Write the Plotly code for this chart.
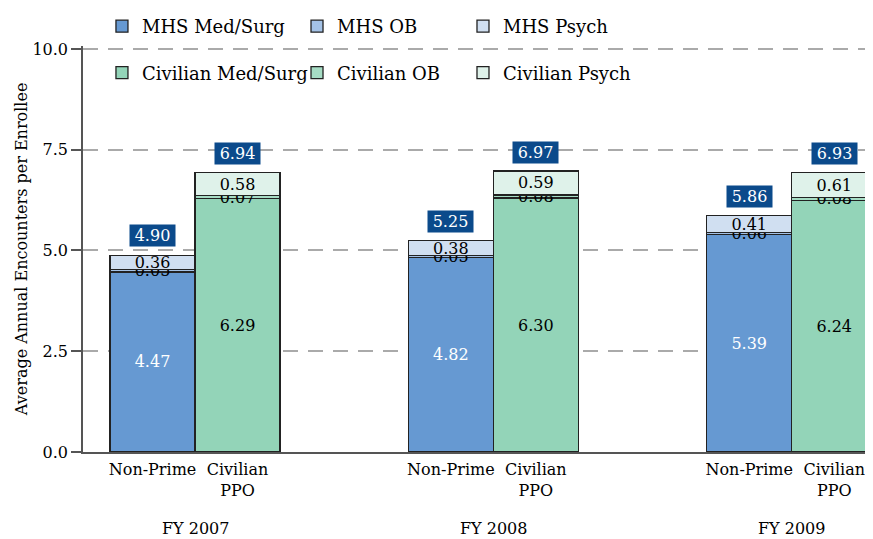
import plotly.graph_objects as go

years = ["FY 2007", "FY 2008", "FY 2009"]
bar_labels = ["Non-Prime", "Civilian<br>PPO"]

mhs_medsurg = [4.47, 4.82, 5.39]
mhs_ob = [0.05, 0.05, 0.06]
mhs_psych = [0.36, 0.38, 0.41]
civ_medsurg = [6.29, 6.30, 6.24]
civ_ob = [0.07, 0.08, 0.08]
civ_psych = [0.58, 0.59, 0.61]
mhs_total = [4.90, 5.25, 5.86]
civ_total = [6.94, 6.97, 6.93]

FONT = "DejaVu Serif"
GAP = 3.51
YTOP = 10.08
x_mhs = [i * GAP for i in range(len(years))]
x_civ = [i * GAP + 1 for i in range(len(years))]
x_grp = [i * GAP + 0.5 for i in range(len(years))]

fig = go.Figure()

def add(name, xs, ys, color, txtcolor, legend, group):
    fig.add_trace(go.Bar(
        name=name, x=xs, y=ys, width=1.0,
        marker=dict(color=color, line=dict(color="#222222", width=1.3)),
        text=[f"{v:.2f}" for v in ys],
        textposition="inside", insidetextanchor="middle",
        constraintext="none", textangle=0,
        textfont=dict(family=FONT, size=16, color=txtcolor),
        legend=legend, legendgroup=group, showlegend=True,
    ))

add("MHS Med/Surg", x_mhs, mhs_medsurg, "#6699D2", "white", "legend", "a")
add("Civilian Med/Surg", x_civ, civ_medsurg, "#93D4B8", "black", "legend", "b")
add("MHS OB", x_mhs, mhs_ob, "#A4C2E6", "black", "legend2", "c")
add("Civilian OB", x_civ, civ_ob, "#A6DCC4", "black", "legend2", "d")
add("MHS Psych", x_mhs, mhs_psych, "#D0DFF1", "black", "legend3", "e")
add("Civilian Psych", x_civ, civ_psych, "#DFF2EA", "black", "legend3", "f")

for xs, tots in ((x_mhs, mhs_total), (x_civ, civ_total)):
    for xv, t in zip(xs, tots):
        fig.add_annotation(x=xv, y=t, text=f"{t:.2f}", showarrow=False,
                           yshift=19, bgcolor="#0B4A8B", width=45, height=21,
                           borderpad=0, font=dict(family=FONT, size=16, color="white"))

for xv, yr in zip(x_grp, years):
    fig.add_annotation(x=xv, y=-0.1734, yref="paper", text=yr, showarrow=False,
                       yanchor="middle", font=dict(family=FONT, size=16, color="black"))

leg_common = dict(orientation="v", yanchor="top", xanchor="left", y=1.0,
                  bgcolor="rgba(255,255,255,0)", traceorder="grouped", tracegroupgap=20,
                  font=dict(family=FONT, size=18, color="black"))

fig.update_layout(
    width=865, height=531,
    margin=dict(l=75, r=0, t=0, b=87),
    plot_bgcolor="white", paper_bgcolor="white",
    barmode="stack",
    font=dict(family=FONT, size=16, color="black"),
    legend=dict(x=0.024, **leg_common),
    legend2=dict(x=0.2709, **leg_common),
    legend3=dict(x=0.481, **leg_common),
    xaxis=dict(range=[-0.8176, 8.476], tickvals=x_mhs + x_civ,
               ticktext=[bar_labels[0]] * 3 + [bar_labels[1]] * 3,
               showline=True, linecolor="#555555", linewidth=1.5,
               showgrid=False, zeroline=False, ticks="", ticklabelstandoff=2,
               automargin=False,
               tickfont=dict(family=FONT, size=16, color="black")),
    yaxis=dict(range=[0, YTOP], domain=[0, 403 * YTOP / 10 / 444],
               tickvals=[0, 2.5, 5, 7.5, 10], tickformat=".1f",
               showline=True, linecolor="#555555", linewidth=1.5,
               ticks="outside", ticklen=10, tickcolor="#555555", tickwidth=1.5,
               showgrid=True, gridcolor="#AAAAAA", gridwidth=1.5, griddash="15px,10px",
               zeroline=False, automargin=False,
               title=dict(text="Average Annual Encounters per Enrollee", standoff=1,
                          font=dict(family=FONT, size=16, color="black")),
               tickfont=dict(family=FONT, size=16, color="black")),
)

fig.write_html("out.html")
